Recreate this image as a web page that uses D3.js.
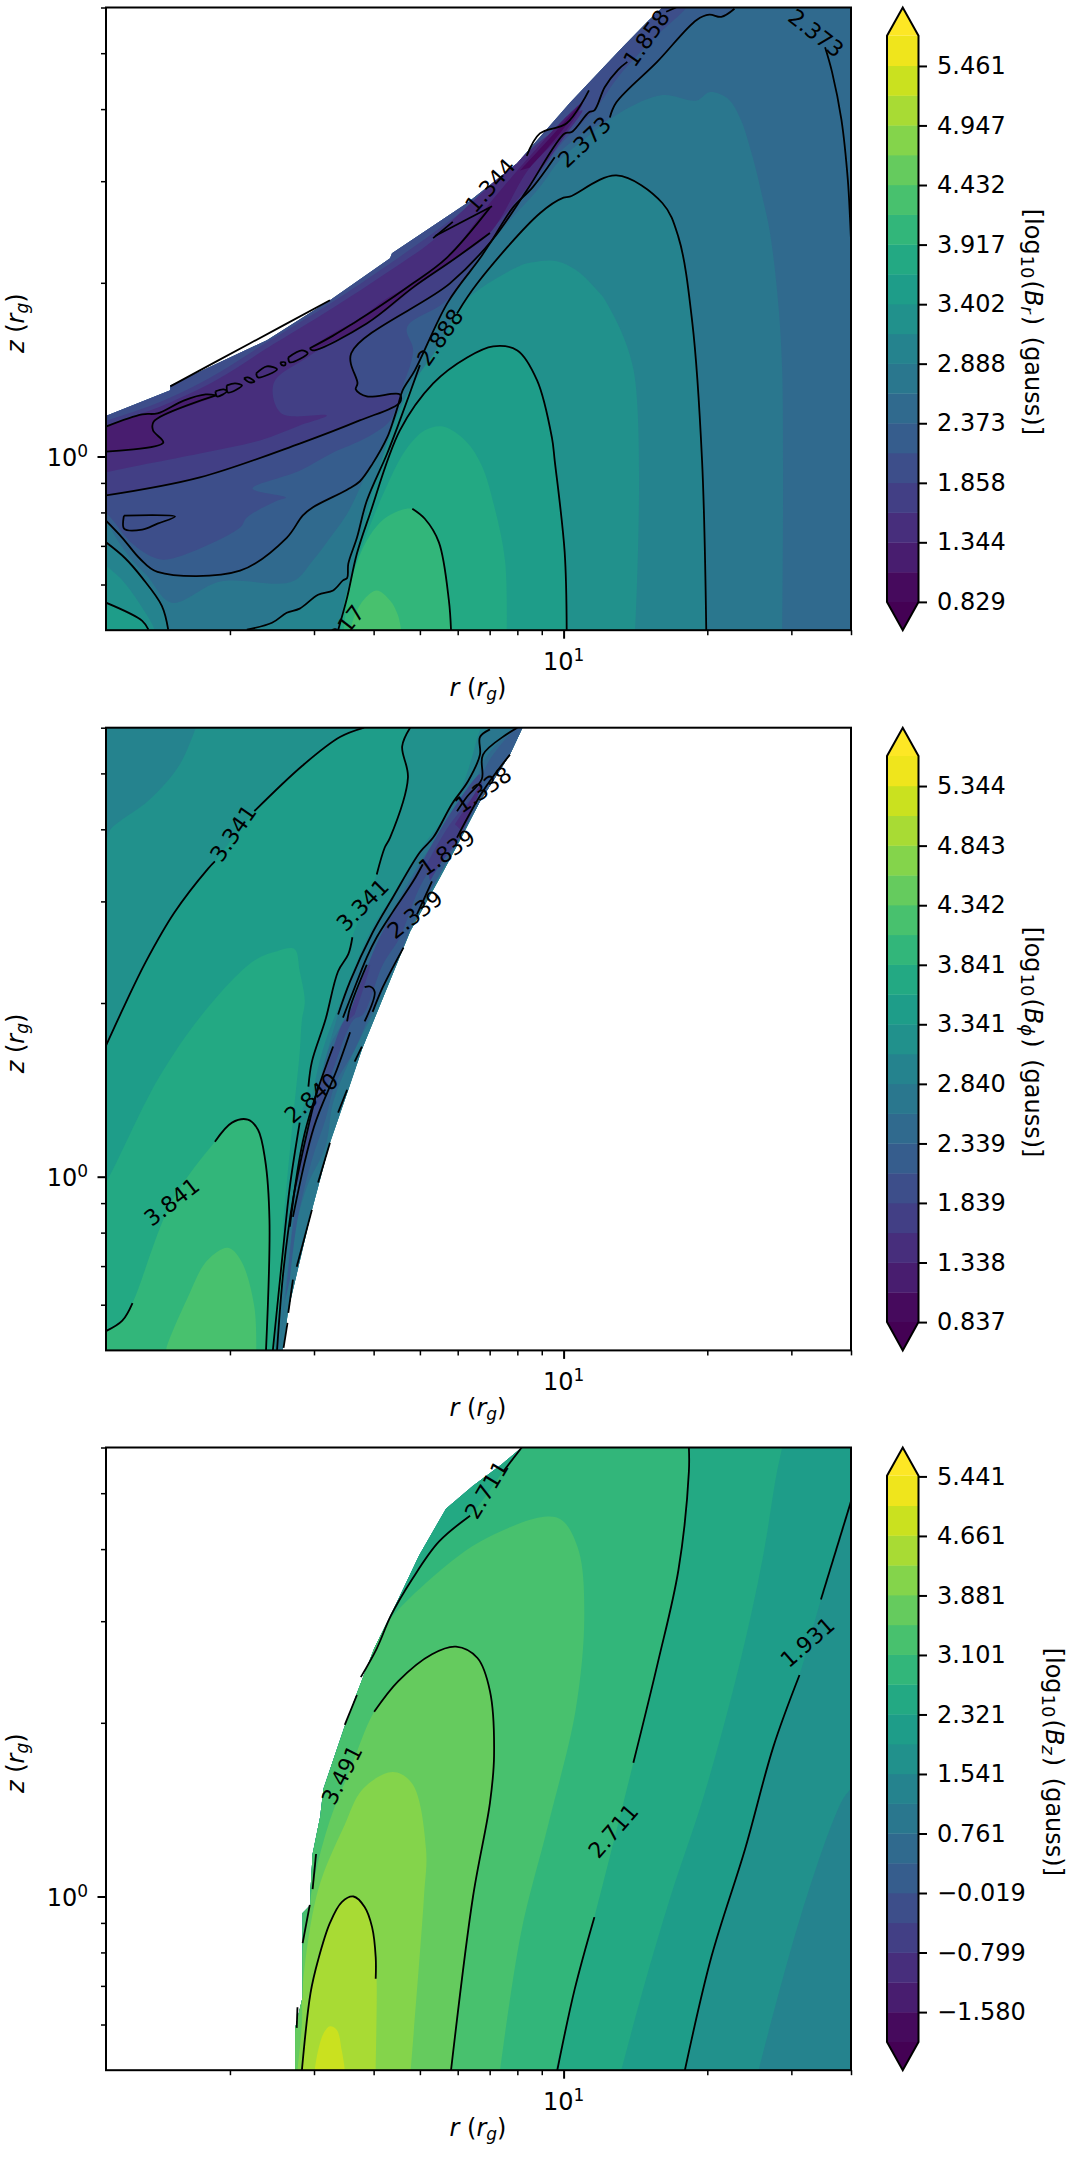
<!DOCTYPE html>
<html>
<head>
<meta charset="utf-8">
<style>
  body { margin: 0; background: #fff; }
  svg { display: block; }
  text { font-family: "DejaVu Sans", sans-serif; fill: #000; }
</style>
<script src="https://cdn.jsdelivr.net/npm/d3@7"></script>
</head>
<body>
<svg id="chart" width="1073" height="2160"></svg>
<script>
//Shared axis values
const rDomain = [1.1, 40];
const zDomain = [0.5, 6];
const rMinor = [2, 3, 4, 5, 6, 7, 8, 9, 20, 30, 40];
const zMinor = [0.6, 0.7, 0.8, 0.9, 2, 3, 4, 5, 6];

//Panel 1: B_r. Fills are painted in order, band is the colorbar cell index.
const brTicks = [0.829, 1.344, 1.858, 2.373, 2.888, 3.402, 3.917, 4.432, 4.947, 5.461];
const brEdge = [[1.07,1.168],[1.105,1.178],[1.5,1.302],[1.5,1.328],[2.39,1.59],[3.24,1.865],[4.33,2.205],[4.37,2.25],[6.28,2.75],[7.98,3.22],[10.3,4.1],[13.1,5.06],[15.1,5.71],[16.1,6],[16.1,6.28],[42,6.28],[42,0.487],[1.07,0.487]];
const brFills = [
  {band:6, pts:[[42,0.487],[42,6.28],[1.07,6.28],[1.07,0.487]]},
  {band:7, pts:[[28.7,0.487],[28.7,1.42],[28,1.94],[27,2.47],[26.1,2.81],[24.9,3.3],[23.4,3.87],[22,4.18],[20.2,4.28],[19,4.14],[16.1,4.23],[13.1,3.94],[11.3,3.6],[9.82,3.26],[8.92,2.93],[7.36,2.45],[5.86,1.895],[5.25,1.62],[4.77,1.42],[4.27,1.14],[4.06,1.04],[3.8,0.908],[3.52,0.796],[3.29,0.735],[2.98,0.66],[2.7,0.607],[1.91,0.607],[1.51,0.558],[1.34,0.622],[1.25,0.66],[1.176,0.706],[1.07,0.79],[1.07,0.487]]},
  {band:8, pts:[[19.9,0.487],[19.5,0.984],[18.6,1.71],[17.4,2.4],[16.1,2.75],[12.9,3.07],[10.3,2.82],[10,2.81],[8.92,2.64],[6.59,1.995],[5.92,1.757],[5.2,1.44],[4.54,1.155],[4.27,1.012],[3.87,0.838],[3.69,0.723],[3.54,0.652],[3.52,0.616],[3.45,0.61],[3.29,0.586],[3.06,0.576],[2.8,0.545],[2.63,0.536],[2.45,0.515],[2.17,0.501],[2.1,0.487]]},
  {band:8, pts:[[1.07,0.72],[1.1,0.71],[1.205,0.667],[1.31,0.616],[1.44,0.551],[1.485,0.501],[1.485,0.487],[1.07,0.487]]},
  {band:9, pts:[[14.1,0.487],[14,1.42],[12.2,1.87],[11.9,1.92],[10.65,2.1],[9.68,2.18],[8.62,2.17],[8,2.13],[6.13,1.84],[5.59,1.59],[4.93,1.37],[4.54,1.21],[4.22,1.024],[3.93,0.838],[3.65,0.66],[3.45,0.519],[3.37,0.487]]},
  {band:9, pts:[[1.07,0.66],[1.1,0.647],[1.19,0.61],[1.31,0.547],[1.39,0.501],[1.39,0.487],[1.07,0.487]]},
  {band:10, pts:[[10.15,0.487],[10.05,0.684],[9.58,0.984],[9.45,1.079],[8.8,1.355],[8,1.527],[7.12,1.552],[6.28,1.485],[5.33,1.339],[4.54,1.11],[3.93,0.796],[3.69,0.679],[3.52,0.57],[3.37,0.5],[3.32,0.487]]},
  {band:10, pts:[[1.07,0.563],[1.1,0.558],[1.31,0.519],[1.35,0.501],[1.35,0.487],[1.07,0.487]]},
  {band:11, pts:[[7.6,0.487],[7.54,0.66],[7.15,0.822],[6.74,0.964],[6.25,1.062],[5.59,1.127],[5.12,1.11],[4.66,1.024],[4.22,0.873],[3.93,0.759],[3.69,0.66],[3.48,0.563],[3.4,0.487]]},
  {band:12, pts:[[5.81,0.487],[5.75,0.563],[5.48,0.71],[5.12,0.78],[4.82,0.812],[4.43,0.8],[4.12,0.768],[3.8,0.695],[3.57,0.597],[3.45,0.487]]},
  {band:13, pts:[[4.59,0.487],[4.5,0.53],[4.33,0.563],[4.06,0.586],[3.83,0.567],[3.65,0.53],[3.55,0.487]]},
  {band:5, pts:[[1.07,0.79],[1.1,0.774],[1.19,0.723],[1.296,0.665],[1.41,0.631],[2.1,0.634],[2.63,0.723],[2.84,0.79],[2.98,0.816],[3.52,0.876],[3.74,0.905],[3.98,0.972],[4.27,1.079],[4.4,1.155],[4.5,1.226],[4.6,1.302],[4.88,1.41],[5.72,1.85],[6.68,2.205],[7.08,2.37],[7.83,2.7],[8.62,2.93],[9.58,3.3],[11.05,3.65],[12.5,3.87],[12.9,4.11],[15.7,4.83],[19,5.71],[20.2,5.83],[21.4,5.78],[22.8,5.97],[23.4,6.28],[1.07,6.28]]},
  {band:4, pts:[[1.07,0.807],[1.105,0.796],[1.25,0.706],[1.41,0.665],[1.53,0.667],[2.1,0.753],[2.17,0.784],[2.51,0.838],[2.62,0.849],[2.23,0.88],[2.8,0.945],[3.29,1.016],[3.87,1.079],[4.33,1.155],[4.54,1.286],[4.84,1.527],[4.7,1.674],[5.69,1.865],[7.01,2.37],[8.62,2.95],[9.82,3.46],[11.6,3.98],[13.1,4.58],[15.7,5.37],[18.2,6.05],[18.4,6.28],[1.07,6.28]]},
  {band:3, pts:[[1.07,0.849],[1.1,0.856],[1.73,0.92],[2.8,1.053],[3.74,1.155],[4.54,1.241],[4.54,1.281],[3.87,1.271],[3.67,1.307],[3.7,1.339],[3.59,1.51],[5.78,1.995],[7.08,2.37],[8.37,2.89],[10.05,3.63],[10.8,3.98],[10.15,3.8],[8.37,3.3],[6.28,2.7],[5.33,2.44],[4.33,2.16],[3.24,1.84],[2.39,1.577],[1.82,1.371],[1.5,1.266],[1.31,1.21],[1.105,1.155],[1.07,1.145]]},
  {band:2, pts:[[1.07,0.93],[1.1,0.938],[1.73,1.012],[2.31,1.066],[2.8,1.132],[3.19,1.178],[2.56,1.188],[2.47,1.339],[2.9,1.485],[4.06,1.743],[5,1.995],[6.28,2.28],[7.12,2.495],[8.62,3.01],[10.15,3.63],[10.95,3.98],[8.62,3.43],[5.78,2.54],[5.33,2.37],[4.33,2.1],[3.29,1.81],[2.39,1.54],[1.87,1.355],[1.5,1.241],[1.31,1.188],[1.105,1.132],[1.07,1.118]]},
  {band:1, pts:[[1.07,1.016],[1.1,1.02],[1.45,1.057],[1.38,1.11],[1.385,1.15],[1.87,1.276],[1.78,1.281],[1.6,1.25],[1.41,1.188],[1.31,1.183],[1.1,1.127],[1.07,1.118]]},
  {band:1, pts:[[2.98,1.527],[3.87,1.7],[4.84,1.964],[5.86,2.19],[7.01,2.44],[8.5,3.17],[10.15,3.68],[10.95,4.1],[9.82,3.78],[8.62,3.36],[8,3.13],[7.01,2.75],[5.69,2.21],[4.84,1.995],[4.27,1.88],[3.69,1.72],[3.29,1.635],[2.94,1.54]]},
  {band:0, pts:[[8.5,3.17],[9.82,3.63],[11.15,4.2],[10.55,3.98],[9.55,3.63],[8.1,3.13]]}
];
const brLines = [
  [[35.3,5.12],[36.5,4.64],[38.2,3.83],[39.4,3.01],[39.8,2.6],[40,2.37]],
  [[19.9,0.5],[19.5,0.984],[18.6,1.71],[17.4,2.4],[16.1,2.75],[12.9,3.07],[10.3,2.82],[10,2.81],[8.92,2.64],[6.59,1.995],[5.98,1.77]],
  [[5,1.44],[4.54,1.155],[4.27,1.012],[3.87,0.838],[3.69,0.723],[3.54,0.652],[3.52,0.616],[3.45,0.61],[3.29,0.586],[3.06,0.576],[2.8,0.545],[2.63,0.536],[2.45,0.515],[2.17,0.501]],
  [[10.15,0.5],[10.05,0.684],[9.58,0.984],[9.45,1.079],[8.8,1.355],[8,1.527],[7.12,1.552],[6.28,1.485],[5.33,1.339],[4.54,1.11],[3.93,0.796],[3.69,0.679],[3.52,0.57],[3.37,0.5]],
  [[4.82,0.812],[5.12,0.78],[5.48,0.71],[5.75,0.563],[5.81,0.5]],
  [[1.1,0.774],[1.19,0.723],[1.296,0.665],[1.41,0.631],[2.1,0.634],[2.63,0.723],[2.84,0.79],[2.98,0.816],[3.52,0.876],[3.74,0.905],[3.98,0.972],[4.27,1.079],[4.4,1.155],[4.5,1.226],[4.6,1.302],[4.88,1.41],[5.72,1.85],[6.68,2.205],[7.08,2.37],[7.83,2.7],[8.62,2.93],[9.58,3.3]],
  [[12.5,3.87],[12.9,4.11],[15.7,4.83],[19,5.71],[20.2,5.83],[21.4,5.78],[22.8,5.97]],
  [[1.1,0.856],[1.73,0.92],[2.8,1.053],[3.74,1.155],[4.54,1.241],[4.54,1.281],[3.87,1.271],[3.67,1.307],[3.7,1.339],[3.59,1.51],[5.78,1.995],[7.08,2.37],[8.37,2.89],[10.05,3.63],[10.4,3.65],[11.3,3.95],[11.6,3.98],[12.2,4.37],[13,4.68],[13.6,4.83]],
  [[16.4,5.9],[17.2,6]],
  [[1.5,1.323],[2.2,1.57],[3.24,1.865]],
  [[5.38,2.41],[7.08,2.715]],
  [[5.33,2.39],[5.86,2.55]],
  [[8.37,3.32],[8.92,3.63],[10.15,3.78],[11.3,4.31]],
  [[1.2,0.79],[1.535,0.787],[1.41,0.765],[1.31,0.747],[1.2,0.75],[1.2,0.79]],
  [[1.1,0.71],[1.205,0.667],[1.31,0.616],[1.44,0.551],[1.485,0.501]],
  [[1.1,0.558],[1.31,0.519],[1.35,0.501]],
  [[1.1,1.02],[1.45,1.057],[1.38,1.11],[1.385,1.15],[1.87,1.276]],
  [[1.1,1.127],[1.31,1.183],[1.41,1.188],[1.6,1.25],[1.78,1.281],[1.87,1.276]],
  [[1.865,1.297],[1.88,1.271],[1.97,1.297],[1.94,1.307],[1.865,1.297]],
  [[1.97,1.328],[2.05,1.339],[2.12,1.328],[1.98,1.291],[1.97,1.328]],
  [[2.14,1.366],[2.18,1.371],[2.25,1.349],[2.2,1.344],[2.14,1.366]],
  [[2.27,1.393],[2.39,1.433],[2.51,1.416],[2.29,1.371],[2.27,1.393]],
  [[2.55,1.456],[2.61,1.456],[2.61,1.44],[2.57,1.44],[2.55,1.456]],
  [[2.65,1.485],[2.83,1.527],[2.91,1.51],[2.67,1.456],[2.65,1.485]],
  [[2.94,1.54],[3.29,1.62],[3.62,1.7],[4.06,1.806],[4.77,1.98],[5.69,2.21],[7.01,2.7]],
  [[2.94,1.54],[2.98,1.527],[3.87,1.7],[4.84,1.964],[5.86,2.19],[7.01,2.44]]
];
const brLabels = [
  {r:14.9, z:5.31, text:"1.858", angle:-55},
  {r:11.05, z:3.51, text:"2.373", angle:-43},
  {r:33.8, z:5.42, text:"2.373", angle:38},
  {r:7.01, z:2.95, text:"1.344", angle:-49},
  {r:5.51, z:1.61, text:"2.888", angle:-55},
  {r:3.4, z:0.495, text:"3.917", angle:-52}
];

//Panel 2: B_phi
const bpTicks = [0.837, 1.338, 1.839, 2.339, 2.84, 3.341, 3.841, 4.342, 4.843, 5.344];
const bpEdge = [[1.07,6.28],[8.43,6.28],[8.2,6],[7.72,5.39],[6.68,4.47],[6.16,3.92],[5.51,3.3],[4.77,2.66],[3.97,1.835],[3.78,1.661],[3.54,1.415],[3.24,1.145],[2.97,0.876],[2.65,0.588],[2.58,0.501],[2.58,0.487],[1.07,0.487]];
const bpFills = [
  {band:9, pts:[[42,0.487],[42,6.28],[1.07,6.28],[1.07,0.487]]},
  {band:8, pts:[[1.73,6.28],[1.57,5.18],[1.36,4.51],[1.125,4],[1.1,3.83],[1.07,3.77],[1.07,6.28]]},
  {band:10, pts:[[3.89,6.28],[3.82,6],[3.4,5.78],[2.84,5.16],[2.25,4.3],[1.86,3.52],[1.8,3.42],[1.53,2.87],[1.33,2.35],[1.205,1.987],[1.1,1.687],[1.07,1.66],[1.07,0.487],[2.46,0.487],[2.58,0.738],[2.67,0.961],[2.8,1.241],[2.92,1.433],[2.97,1.583],[3.17,1.87],[3.37,2.27],[3.54,2.43],[3.61,2.6],[3.83,2.96],[4.06,3.34],[4.22,3.72],[4.33,3.87],[4.72,4.92],[4.59,5.57],[4.77,6],[4.82,6.28]]},
  {band:11, pts:[[1.07,0.95],[1.1,0.977],[1.42,1.485],[1.79,1.956],[2.25,2.37],[2.51,2.46],[2.73,2.48],[2.8,2.27],[2.87,2.01],[2.83,1.87],[2.8,1.64],[2.71,1.256],[2.59,0.842],[2.46,0.487],[1.07,0.487]]},
  {band:12, pts:[[1.07,0.532],[1.1,0.54],[1.19,0.563],[1.25,0.604],[1.51,0.905],[1.86,1.15],[2.02,1.241],[2.18,1.256],[2.29,1.206],[2.37,1.07],[2.42,0.842],[2.38,0.501],[2.38,0.487],[1.07,0.487]]},
  {band:13, pts:[[1.47,0.487],[1.47,0.501],[1.63,0.616],[1.79,0.715],[1.98,0.753],[2.11,0.715],[2.25,0.595],[2.27,0.487]]},
  {band:8, pts:[[6.84,6.28],[6.68,5.96],[6.16,4.79],[5.69,4.25],[4.93,3.62],[4.39,3.08],[3.93,2.65],[3.48,2.09],[3.13,1.66],[2.91,1.256],[2.74,0.961],[2.59,0.69],[2.48,0.501],[2.48,0.487],[20,0.487],[20,6.28]]},
  {band:7, pts:[[7.2,6.28],[7.01,5.96],[6.68,5.78],[6.68,5.39],[6.31,4.85],[5.84,4.43],[5.33,3.87],[5,3.65],[4.39,3.05],[3.98,2.65],[3.57,2.18],[3.37,1.91],[3.06,1.433],[2.9,1.192],[2.71,0.912],[2.59,0.69],[2.51,0.501],[2.51,0.487],[20,0.487],[20,6.28]]},
  {band:6, pts:[[8.33,6.28],[6.94,5.39],[6.52,4.85],[6.07,4.43],[5.51,3.87],[5.17,3.65],[4.54,3.05],[4.12,2.65],[3.83,2.33],[3.48,1.887],[3.2,1.64],[3,1.256],[2.84,1.1],[2.7,0.819],[2.55,0.501],[2.67,0.738],[2.9,0.961],[3.17,1.127],[3.29,1.344],[3.57,1.596],[4.02,1.947],[4.82,2.74],[6.37,4.16],[8.92,6.28]]},
  {band:5, pts:[[2.61,0.611],[2.74,0.876],[2.94,1.16],[3.17,1.415],[3.48,1.73],[3.57,1.887],[3.89,2.24],[4.22,2.63],[4.66,3.02],[5.25,3.62],[5.64,3.92],[6.22,4.43],[6.68,4.85],[7.01,5.29],[8.04,6],[8.4,6],[7.92,5.39],[7.19,4.79],[6.68,4.47],[6.13,3.92],[5.46,3.3],[4.88,2.79],[4.5,2.38],[3.97,1.947],[3.65,1.66],[3.32,1.445],[3.17,1.256],[2.97,1.07],[2.77,0.842],[2.67,0.663]]},
  {band:4, pts:[[2.71,0.923],[2.9,1.192],[3.05,1.415],[3.24,1.615],[3.45,1.85],[3.52,1.887],[3.8,2.21],[4.12,2.6],[4.93,3.38],[5.78,4.25],[6.68,4.98],[6.37,4.25],[6.16,4.03],[5.07,3.25],[4.54,2.6],[4.18,2.33],[3.8,1.91],[3.63,1.87],[3.35,1.596],[3.13,1.36],[2.94,1.127],[2.8,1]]},
  {band:3, pts:[[5.17,3.48],[5.78,4.08],[6.46,4.56],[6.68,4.73],[6.43,4.3],[5.98,3.81],[5.51,3.48],[5.25,3.25]]},
  {band:3, pts:[[3.52,1.858],[3.87,2.3],[3.93,2.33],[3.65,1.91]]},
  {band:2, pts:[[5.92,4.08],[6.46,4.56],[6.74,4.83],[6.52,4.43],[6.07,4]]}
];
const bpLines = [
  [[3.82,6],[3.4,5.78],[2.84,5.16],[2.25,4.3]],
  [[1.86,3.52],[1.8,3.42],[1.53,2.87],[1.33,2.35],[1.205,1.987],[1.1,1.687]],
  [[4.77,6],[4.59,5.57],[4.72,4.92],[4.33,3.87],[4.22,3.72],[4.06,3.34]],
  [[3.61,2.6],[3.54,2.43],[3.37,2.27],[3.17,1.87],[2.97,1.583],[2.92,1.433]],
  [[2.8,1.241],[2.67,0.961],[2.58,0.738],[2.46,0.5]],
  [[1.86,1.15],[2.02,1.241],[2.18,1.256],[2.29,1.206],[2.37,1.07],[2.42,0.842],[2.38,0.5]],
  [[1.25,0.604],[1.19,0.563],[1.1,0.54]],
  [[7.01,5.96],[6.68,5.78],[6.68,5.39],[6.31,4.85],[5.84,4.43],[5.33,3.87],[5,3.65],[4.39,3.05],[3.98,2.65],[3.57,2.18],[3.37,1.91]],
  [[3.06,1.433],[2.9,1.192],[2.71,0.912],[2.59,0.69],[2.51,0.5]],
  [[8,6],[6.78,5.39],[6.74,4.89],[6.28,4.56],[5.98,4.3]],
  [[5.07,3.48],[4.84,3.25],[4.39,2.88],[4.06,2.6],[3.87,2.4],[3.62,2.09],[3.45,1.887]],
  [[7.72,5.39],[6.78,4.66],[5.98,3.87]],
  [[5.3,3.25],[4.93,2.85]],
  [[4.62,2.495],[4.18,2.13],[3.98,1.93]],
  [[3.87,2.33],[3.57,1.964],[3.52,1.858]],
  [[3.83,2.13],[3.93,2.136],[4.02,2.09],[3.83,1.858]],
  [[3.52,1.415],[3.37,1.291]],
  [[3.24,1.145],[3.06,0.977]],
  [[2.97,0.876],[2.76,0.698]],
  [[2.71,0.663],[2.65,0.581]],
  [[2.64,0.558],[2.59,0.505]],
  [[3.78,1.681],[3.65,1.583]],
  [[3.29,1.681],[2.87,1.192],[2.67,0.819]],
  [[3.57,1.78],[3.35,1.534],[3,1.221],[2.71,0.852]]
];
const bpLabels = [
  {r:2.03, z:3.94, text:"3.341", angle:-55},
  {r:3.79, z:2.96, text:"3.341", angle:-45},
  {r:1.51, z:0.905, text:"3.841", angle:-38},
  {r:2.96, z:1.37, text:"2.840", angle:-41},
  {r:4.88, z:2.85, text:"2.339", angle:-38},
  {r:5.69, z:3.65, text:"1.839", angle:-35},
  {r:6.78, z:4.69, text:"1.338", angle:-35}
];

//Panel 3: B_z
const bzTicks = [-1.58, -0.799, -0.019, 0.761, 1.541, 2.321, 3.101, 3.881, 4.661, 5.441];
const bzEdge = [[8.43,6.28],[8.17,6],[7.4,5.6],[6.46,5.15],[5.67,4.7],[4.98,3.9],[4.43,3.18],[4.01,2.69],[3.69,2.25],[3.47,1.96],[3.14,1.537],[3.09,1.374],[2.98,1.185],[2.95,1.026],[2.95,0.967],[2.84,0.936],[2.84,0.669],[2.74,0.592],[2.74,0.5],[2.74,0.487],[42,0.487],[42,6.28]];
const bzFills = [
  {band:8, pts:[[42,0.487],[42,6.28],[1.07,6.28],[1.07,0.487]]},
  {band:9, pts:[[25.4,0.487],[31.4,0.926],[38.1,1.453],[42,1.658],[42,6.28],[1.07,6.28],[1.07,0.487]]},
  {band:10, pts:[[17.95,0.487],[20.4,0.786],[24,1.209],[27.5,1.817],[31.2,2.42],[34.6,3.27],[40,4.84],[42,5.5],[42,6.28],[1.07,6.28],[1.07,0.487]]},
  {band:11, pts:[[13.1,0.487],[14.7,0.694],[16.75,1],[19.75,1.512],[23.4,2.54],[26.1,3.84],[27.9,5.37],[28.7,6],[29,6.28],[1.07,6.28],[1.07,0.487]]},
  {band:12, pts:[[9.55,0.487],[10.55,0.691],[11.6,0.921],[14,1.705],[15.75,2.54],[17.4,3.68],[18.3,5.45],[18.3,6],[18.3,6.28],[8.17,6.28],[8.17,6],[7.47,5.45],[6.37,4.57],[5.48,4.12],[4.82,3.55],[4.35,3.07],[4.06,2.69],[3.76,2.4],[3.61,2.107],[3.4,1.795],[3.17,1.47],[2.8,0.986],[2.67,0.487]]},
  {band:13, pts:[[7.33,0.487],[8.14,0.864],[9.27,1.325],[10.6,2.107],[11.05,3.07],[10.75,3.98],[9.92,4.49],[9.1,4.55],[6.68,4.12],[5.14,3.49],[4.22,2.945],[3.8,2.54],[3.47,2.03],[3.32,1.87],[3.09,1.53],[2.8,0.986],[2.65,0.487]]},
  {band:14, pts:[[5.81,0.487],[5.81,0.5],[6.46,1],[7.01,1.453],[7.15,1.753],[7.01,2.27],[6.6,2.59],[5.95,2.71],[5.3,2.63],[4.5,2.36],[4.01,2.09],[3.57,1.658],[3.24,1.357],[3,1.068],[2.84,0.808],[2.74,0.587],[2.71,0.487]]},
  {band:15, pts:[[4.77,0.487],[5.1,1],[5.15,1.209],[4.82,1.568],[4.39,1.643],[3.8,1.537],[3.47,1.325],[3.06,1.026],[2.84,0.697],[2.83,0.603],[2.76,0.487]]},
  {band:16, pts:[[4.04,0.487],[4.04,0.5],[4.06,0.702],[4.04,0.785],[3.97,0.885],[3.83,0.959],[3.63,1],[3.43,0.978],[3.24,0.9],[3.06,0.776],[2.95,0.68],[2.83,0.5],[2.82,0.487]]},
  {band:17, pts:[[3.48,0.487],[3.48,0.5],[3.43,0.541],[3.35,0.587],[3.24,0.596],[3.14,0.579],[3.06,0.541],[3.01,0.5],[3,0.487]]}
];
const bzLines = [
  [[17.95,0.5],[20.4,0.786],[24,1.209],[27.5,1.817],[31.2,2.42]],
  [[34.6,3.27],[40,4.84]],
  [[9.7,0.5],[10.55,0.691],[11.6,0.921]],
  [[14,1.705],[15.75,2.54],[17.4,3.68],[18.3,5.45],[18.3,6]],
  [[8.17,6],[7.47,5.45]],
  [[6.37,4.57],[5.48,4.12],[4.82,3.55],[4.35,3.07],[4.06,2.69],[3.76,2.4]],
  [[5.81,0.5],[6.46,1],[7.01,1.453],[7.15,1.753],[7.01,2.27],[6.6,2.59],[5.95,2.71],[5.3,2.63],[4.5,2.36],[4.01,2.09]],
  [[4.04,0.72],[4.04,0.785],[3.97,0.885],[3.83,0.959],[3.63,1],[3.43,0.978],[3.24,0.9],[3.06,0.776],[2.95,0.68],[2.83,0.5]],
  [[3.69,2.235],[3.48,1.984]],
  [[3.03,1.185],[2.98,1.03]],
  [[2.94,0.967],[2.84,0.83]],
  [[2.77,0.643],[2.76,0.592]]
];
const bzLabels = [
  {r:32.4, z:2.76, text:"1.931", angle:-41},
  {r:12.7, z:1.3, text:"2.711", angle:-49},
  {r:6.89, z:5.07, text:"2.711", angle:-59},
  {r:3.43, z:1.625, text:"3.491", angle:-63}
];

const LEFT = 106, RIGHT = 851, PANEL_H = 622.7;
const BAR_LEFT = 887, BAR_RIGHT = 918.5, BAR_COUNT = 19;

const svg = d3.select("#chart");
const defs = svg.append("defs");
const lineGen = d3.line().curve(d3.curveCatmullRom.alpha(0.5));
const color = i => d3.interpolateViridis((i + 0.5) / BAR_COUNT);

function drawPanel(name, top, ticks, firstLevel, fills, edge, lines, labels, cbarName, labelX) {
    const x = d3.scaleLog().domain(rDomain).range([LEFT, RIGHT]);
    const y = d3.scaleLog().domain(zDomain).range([top + PANEL_H, top]);
    const g = svg.append("g").attr("class", name);
    const toPx = p => [x(p[0]), y(p[1])];

    defs.append("clipPath").attr("id", name + "-edge")
        .append("path").attr("d", d3.line()(edge.map(toPx)) + "Z");
    defs.append("clipPath").attr("id", name + "-axes")
        .append("rect").attr("x", LEFT).attr("y", top)
        .attr("width", RIGHT - LEFT).attr("height", PANEL_H);

    // Filled bands, painted outer to inner
    const axesClip = g.append("g").attr("clip-path", `url(#${name}-axes)`);
    axesClip.append("g").attr("clip-path", `url(#${name}-edge)`)
        .selectAll("path").data(fills).join("path")
        .attr("d", f => lineGen(f.pts.map(toPx)) + "Z")
        .attr("fill", f => color(f.band));

    // Contour lines and their inline labels
    const over = g.append("g").attr("clip-path", `url(#${name}-axes)`);
    over.selectAll("path").data(lines).join("path")
        .attr("d", l => lineGen(l.map(toPx)))
        .attr("fill", "none").attr("stroke", "#000").attr("stroke-width", 1.8);
    over.selectAll("text").data(labels).join("text")
        .attr("transform", l => `translate(${x(l.r)},${y(l.z)}) rotate(${l.angle})`)
        .attr("text-anchor", "middle").attr("dy", "0.36em")
        .attr("font-size", "22px").text(l => l.text);

    // Frame
    g.append("rect").attr("x", LEFT).attr("y", top)
        .attr("width", RIGHT - LEFT).attr("height", PANEL_H)
        .attr("fill", "none").attr("stroke", "#000").attr("stroke-width", 2);

    // Axes
    const xMajor = g.append("g").attr("transform", `translate(0,${top + PANEL_H})`)
        .call(d3.axisBottom(x).tickValues([10]).tickSize(8.5).tickFormat(() => ""));
    g.append("g").attr("transform", `translate(0,${top + PANEL_H})`)
        .call(d3.axisBottom(x).tickValues(rMinor).tickSize(5).tickFormat(() => ""));
    const yMajor = g.append("g").attr("transform", `translate(${LEFT},0)`)
        .call(d3.axisLeft(y).tickValues([1]).tickSize(8.5).tickFormat(() => ""));
    g.append("g").attr("transform", `translate(${LEFT},0)`)
        .call(d3.axisLeft(y).tickValues(zMinor).tickSize(5).tickFormat(() => ""));
    g.selectAll(".domain").remove();
    g.selectAll(".tick line").attr("stroke", "#000").attr("stroke-width", 1.5);
    xMajor.selectAll(".tick line").attr("stroke-width", 2);
    yMajor.selectAll(".tick line").attr("stroke-width", 2);

    const powerLabel = (sel, exp) => {
        sel.append("tspan").text("10");
        sel.append("tspan").attr("font-size", "17px").attr("dy", "-9").text(exp);
    };
    g.append("text").attr("x", x(10)).attr("y", top + PANEL_H + 40)
        .attr("text-anchor", "middle").attr("font-size", "24px").call(powerLabel, "1");
    g.append("text").attr("x", LEFT - 18).attr("y", y(1) + 9)
        .attr("text-anchor", "end").attr("font-size", "24px").call(powerLabel, "0");

    // Axis titles
    const rgLabel = (sel, first) => {
        sel.append("tspan").attr("font-style", "italic").text(first);
        sel.append("tspan").text(" (");
        sel.append("tspan").attr("font-style", "italic").text("r");
        sel.append("tspan").attr("font-style", "italic").attr("font-size", "17px").attr("dy", "4").text("g");
        sel.append("tspan").attr("dy", "-4").text(")");
    };
    g.append("text").attr("x", 478).attr("y", top + PANEL_H + 66)
        .attr("text-anchor", "middle").attr("font-size", "24px").call(rgLabel, "r");
    g.append("text").attr("transform", `translate(24,${top + PANEL_H * 0.507}) rotate(-90)`)
        .attr("text-anchor", "middle").attr("font-size", "24px").call(rgLabel, "z");

    // Colorbar
    const step = (ticks[1] - ticks[0]) / 2;
    const levels = d3.range(BAR_COUNT + 1).map(i => firstLevel + i * step);
    const tip = PANEL_H / 1.1 * 0.05;
    const c = d3.scaleLinear().domain([levels[0], levels[BAR_COUNT]])
        .range([top + PANEL_H - tip, top + tip]);
    const mid = (BAR_LEFT + BAR_RIGHT) / 2;
    const bar = g.append("g");
    bar.selectAll("rect").data(d3.range(BAR_COUNT)).join("rect")
        .attr("x", BAR_LEFT).attr("width", BAR_RIGHT - BAR_LEFT)
        .attr("y", i => c(levels[i + 1])).attr("height", i => c(levels[i]) - c(levels[i + 1]) + 0.4)
        .attr("fill", color);
    const yTop = c(levels[BAR_COUNT]), yBot = c(levels[0]);
    bar.append("path").attr("d", `M${BAR_LEFT},${yTop}L${mid},${top}L${BAR_RIGHT},${yTop}Z`).attr("fill", d3.interpolateViridis(1));
    bar.append("path").attr("d", `M${BAR_LEFT},${yBot}L${mid},${top + PANEL_H}L${BAR_RIGHT},${yBot}Z`).attr("fill", d3.interpolateViridis(0));
    bar.append("path")
        .attr("d", `M${BAR_LEFT},${yTop}L${mid},${top}L${BAR_RIGHT},${yTop}L${BAR_RIGHT},${yBot}L${mid},${top + PANEL_H}L${BAR_LEFT},${yBot}Z`)
        .attr("fill", "none").attr("stroke", "#000").attr("stroke-width", 2);
    const cAxis = g.append("g").attr("transform", `translate(${BAR_RIGHT},0)`)
        .call(d3.axisRight(c).tickValues(ticks).tickSize(8.5).tickPadding(10)
            .tickFormat(v => d3.format(".3f")(v).replace("-", "\u2212")));
    cAxis.select(".domain").remove();
    cAxis.selectAll(".tick line").attr("stroke", "#000").attr("stroke-width", 2);
    cAxis.selectAll(".tick text").attr("font-size", "24px").attr("font-family", "DejaVu Sans").attr("fill", "#000");

    // Colorbar title
    const t = g.append("text").attr("transform", `translate(${labelX},${top + PANEL_H * 0.5 + 3}) rotate(90)`)
        .attr("text-anchor", "middle").attr("font-size", "24px");
    t.append("tspan").text("[log");
    t.append("tspan").attr("font-size", "18px").attr("dy", "4").attr("dx", "1").text("10");
    t.append("tspan").attr("dy", "-4").attr("dx", "2").text("(");
    t.append("tspan").attr("font-style", "italic").text("B");
    t.append("tspan").attr("font-style", "italic").attr("font-size", "18px").attr("dy", "4").text(cbarName);
    t.append("tspan").attr("dy", "-4").attr("dx", "2").text(")");
    t.append("tspan").attr("dx", "4").text(" (gauss)]");
}

drawPanel("br", 7.5, brTicks, brTicks[0], brFills, brEdge, brLines, brLabels, "r", 1025);
drawPanel("bp", 727.7, bpTicks, bpTicks[0], bpFills, bpEdge, bpLines, bpLabels, "\u03d5", 1025);
drawPanel("bz", 1447.5, bzTicks, bzTicks[0] - (bzTicks[1] - bzTicks[0]) / 2, bzFills, bzEdge, bzLines, bzLabels, "z", 1046);
</script>
</body>
</html>
